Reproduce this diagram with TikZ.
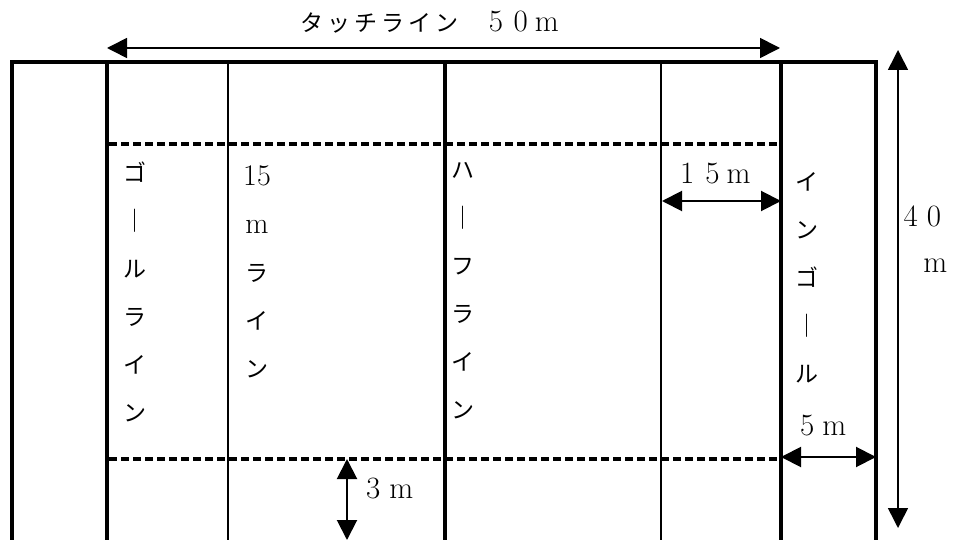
\documentclass[tikz,border=0pt]{standalone}
\usepackage{fontspec}
\newfontfamily\jp{Noto Sans CJK JP}
\newfontfamily\jpw[LetterSpace=18]{Noto Sans CJK JP}
\usetikzlibrary{arrows.meta}
\begin{document}
\begin{tikzpicture}[x=1pt,y=-1pt,
  court/.style={line width=4pt, line join=miter},
  thinl/.style={line width=2.5pt},
  dashl/.style={line width=3.5pt, dash pattern=on 8pt off 4pt},
  dimline/.style={line width=1.6pt, {Triangle[length=20pt,width=20pt]}-{Triangle[length=20pt,width=20pt]}},
  lbl/.style={font=\fontsize{31}{36}\selectfont, inner sep=0pt, anchor=base west},
  vtext/.style={font=\fontsize{23}{48}\selectfont\jp, align=center, inner sep=0pt, anchor=north}]
\useasboundingbox (0,0) rectangle (953,540);
% court outline and lines
\draw[court] (12,540) -- (12,62) -- (876,62) -- (876,540);
\draw[court] (107,62) -- (107,540);
\draw[court] (445,62) -- (445,540);
\draw[court] (781,62) -- (781,540);
\draw[thinl] (228,62) -- (228,540);
\draw[thinl] (661,62) -- (661,540);
\draw[dashl] (109,144) -- (779,144);
\draw[dashl] (109,459) -- (779,459);
% dimension coordinates
\coordinate (tl) at (107,48);
\coordinate (tr) at (780,48);
\coordinate (v1) at (898,50);
\coordinate (v2) at (898,528);
\coordinate (a1) at (662,201);
\coordinate (a2) at (781,201);
\coordinate (b1) at (781,457);
\coordinate (b2) at (876,457);
\coordinate (c1) at (347,459);
\coordinate (c2) at (347,540);
\draw[dimline] (tl) -- (tr);
\draw[dimline] (v1) -- (v2);
\draw[dimline, line width=2pt] (a1) -- (a2);
\draw[dimline, line width=2pt] (b1) -- (b2);
\draw[dimline, line width=2pt] (c1) -- (c2);
% labels
\node[lbl] (touch) at (300,32) {{\fontsize{23}{26}\selectfont\jpw タッチライン}\hspace{30pt}5\hspace{10.5pt}0\hspace{7pt}m};
\node[lbl] (l15) at (680,184) {1\hspace{11pt}5\hspace{7pt}m};
\node[lbl] (l5) at (800,435) {5\hspace{8pt}m};
\node[lbl] (l3) at (366,498) {3\hspace{9pt}m};
\node[lbl] (l40) at (903.5,227) {4\hspace{9pt}0\hspace{-17.8pt}\raisebox{-45pt}{m}};
% vertical texts
\node[vtext] (goal) at (135,162) {ゴ\\｜\\ル\\ラ\\イ\\ン};
\node[vtext] (line15) at (257,165) {{\rmfamily\fontsize{30}{30}\selectfont 15}\\{\rmfamily\fontsize{30}{30}\selectfont m}\\ラ\\イ\\ン};
\node[vtext] (half) at (463,162) {ハ\\｜\\フ\\ラ\\イ\\ン};
\node[vtext] (ingoal) at (807,172) {イ\\ン\\ゴ\\｜\\ル};
\end{tikzpicture}
\end{document}
